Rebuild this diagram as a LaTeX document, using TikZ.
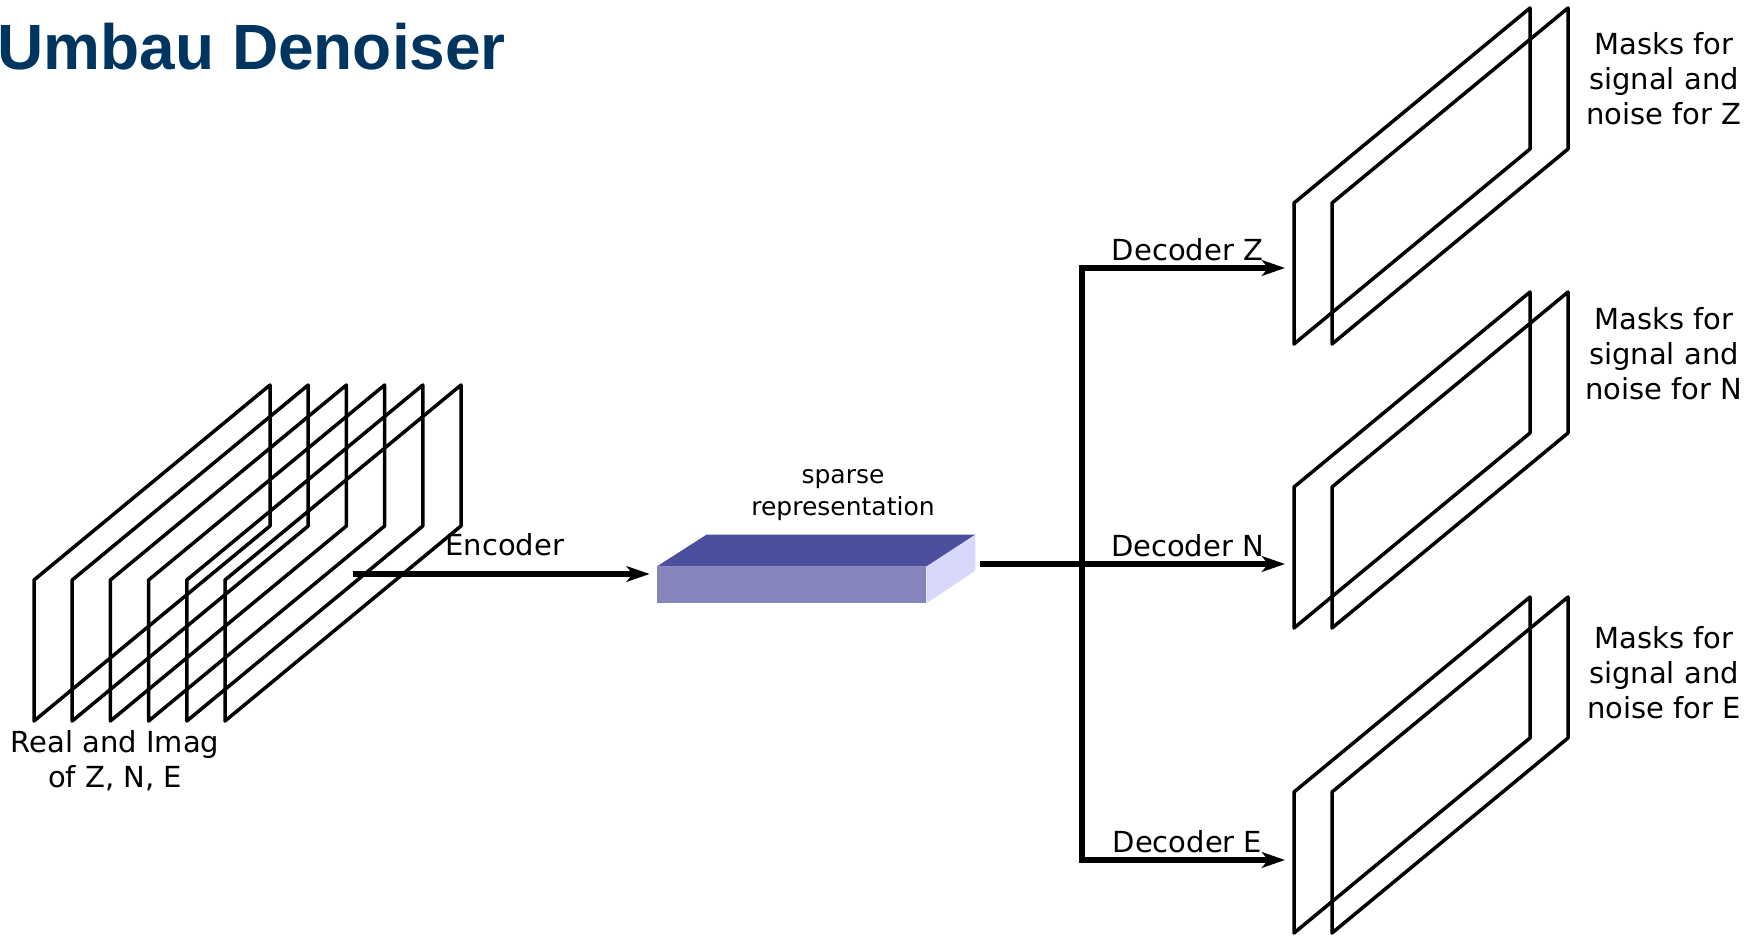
\documentclass[tikz,border=0pt]{standalone}
\usepackage{fontspec}
\setmainfont{DejaVu Sans}
\newfontfamily\headfont{Liberation Sans}
\usetikzlibrary{arrows.meta,positioning}

\definecolor{headblue}{RGB}{0,53,96}
\definecolor{slabtop}{RGB}{75,79,158}
\definecolor{slabfront}{RGB}{133,132,188}
\definecolor{slabside}{RGB}{216,216,250}

\tikzset{
	plate line/.style={line width=1.75pt, line join=round},
	plate/.pic={\draw[plate line] (0,0) -- (0,141) -- (236,-54) -- (236,-195) -- cycle;},
	txt/.style={font=\fontsize{14.5}{17.5}\selectfont, align=center, inner sep=0pt},
	lbl/.style={font=\fontsize{14.5}{17.5}\selectfont, inner sep=0pt},
	note/.style={font=\fontsize{12.5}{15.5}\selectfont, align=center, inner sep=0pt},
	flow/.style={->, line width=3.3pt},
	bus/.style={line width=3.3pt, line cap=rect},
}

\begin{document}
\begin{tikzpicture}[x=0.5pt, y=-0.5pt, >={Stealth[length=11.5pt, width=7.8pt, inset=3pt]}]
	\useasboundingbox (0,0) rectangle (1756,936);

	\node[font=\headfont\bfseries\fontsize{32}{38}\selectfont, text=headblue, inner sep=0pt, anchor=base west] (title) at (-3,70) {Umbau Denoiser};

	% input stack: real and imag parts of the three channels
	\foreach \i in {0,...,5}
		\pic at ({34+38.2*\i},580) {plate};
	\node[txt] (input-lbl) at (115,761) {Real and Imag\\of Z, N, E};

	% sparse slab
	\node[fill=slabfront, minimum width=134.5pt, minimum height=18pt, inner sep=0pt] (sparse) at (791.5,585) {};
	\fill[slabtop] (sparse.north west) -- ++(50,-32) -- ++(269,0) -- (sparse.north east) -- cycle;
	\fill[slabside] (sparse.north east) -- ++(49,-32) -- ++(0,36) -- (sparse.south east) -- cycle;
	\node[note, font=\fontsize{12.5}{16}\selectfont] (sparse-lbl) at (843,495) {sparse\\representation};

	% encoder
	\coordinate (enc-in) at (353,574);
	\draw[flow, shorten >=3.5pt] (enc-in) -- (enc-in -| sparse.west)
		node[midway, above=7.3pt, lbl] (enc-lbl) {Encoder};

	% decoders
	\coordinate (sparse-out) at (983,564);
	\coordinate (bus-top) at (1082,268);
	\coordinate (bus-mid) at (1082,564);
	\coordinate (bus-bot) at (1082,860);
	\coordinate (dec-z) at (1285,268);
	\coordinate (dec-n) at (1285,564);
	\coordinate (dec-e) at (1285,860);

	\draw[bus] (sparse-out) -- (bus-mid);
	\draw[bus] (bus-top) -- (bus-bot);
	\draw[flow] (bus-top) -- (dec-z) node[midway, above=1.8pt, xshift=2pt, lbl] (dz-lbl) {Decoder Z};
	\draw[flow] (bus-mid) -- (dec-n) node[midway, above=1.8pt, xshift=2pt, lbl] (dn-lbl) {Decoder N};
	\draw[flow] (bus-bot) -- (dec-e) node[midway, above=1.8pt, xshift=2pt, lbl] (de-lbl) {Decoder E};

	% output masks
	\foreach \y in {203,487,792}
		\foreach \i in {0,1}
			\pic at ({1294+38*\i},\y) {plate};
	\node[txt] (mask-z) at (1664,79) {Masks for\\signal and\\noise for Z};
	\node[txt] (mask-n) at (1664,354) {Masks for\\signal and\\noise for N};
	\node[txt] (mask-e) at (1664,673) {Masks for\\signal and\\noise for E};

\end{tikzpicture}
\end{document}
